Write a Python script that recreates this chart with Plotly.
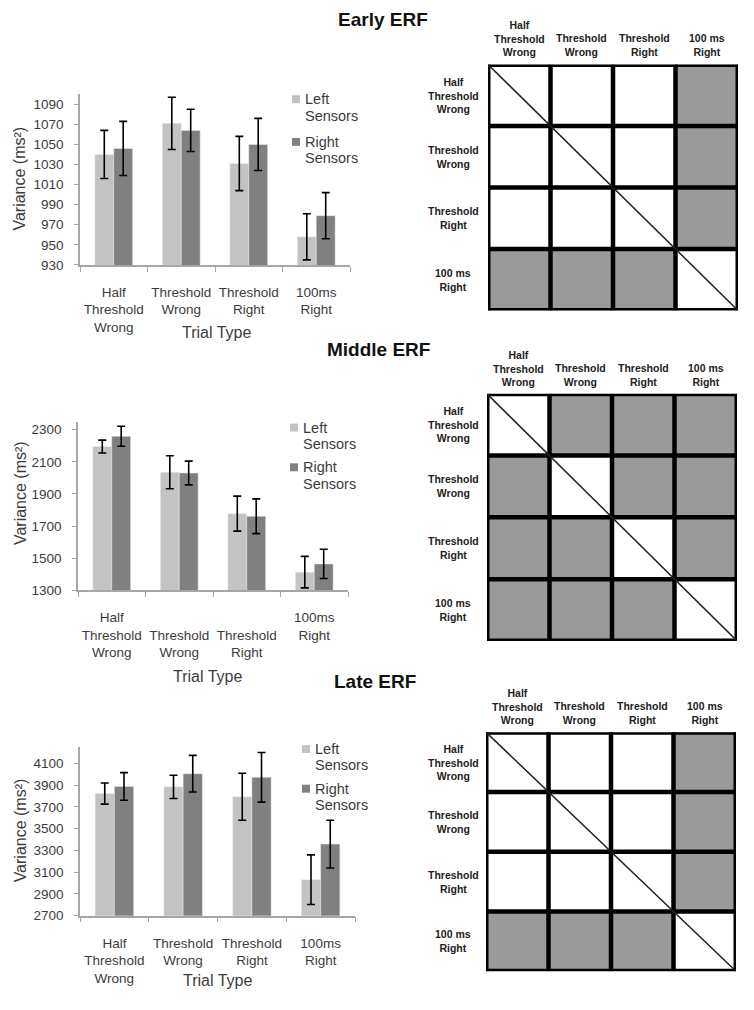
import plotly.graph_objects as go

# ---------------- data ----------------
categories = ["Half Threshold Wrong", "Threshold Wrong", "Threshold Right", "100ms Right"]
tick_text = ["Half<br>Threshold<br>Wrong", "Threshold<br>Wrong", "Threshold<br>Right", "100ms<br>Right"]
tick_text_mid = ["Half<br>Threshold<br>Wrong", "\u00a0<br>Threshold<br>Wrong", "\u00a0<br>Threshold<br>Right", "100ms<br>Right"]
series_names = ["Left Sensors", "Right Sensors"]

early_left = [1040, 1071, 1031, 958]
early_left_err = [24, 26, 27, 23]
early_right = [1046, 1064, 1050, 979]
early_right_err = [27, 21, 26, 23]

middle_left = [2195, 2035, 1777, 1413]
middle_left_err = [40, 103, 109, 98]
middle_right = [2259, 2030, 1761, 1464]
middle_right_err = [62, 74, 108, 91]

late_left = [3822, 3884, 3793, 3031]
late_left_err = [97, 107, 216, 228]
late_right = [3888, 4005, 3972, 3358]
late_right_err = [127, 168, 228, 219]

matrix_labels = ["Half<br>Threshold<br>Wrong", "Threshold<br>Wrong", "Threshold<br>Right", "100 ms<br>Right"]
# 1 = significant difference (grey), 0 = not significant (white)
early_sig = [[0, 0, 0, 1],
             [0, 0, 0, 1],
             [0, 0, 0, 1],
             [1, 1, 1, 0]]
middle_sig = [[0, 1, 1, 1],
              [1, 0, 1, 1],
              [1, 1, 0, 1],
              [1, 1, 1, 0]]
late_sig = [[0, 0, 0, 1],
            [0, 0, 0, 1],
            [0, 0, 0, 1],
            [1, 1, 1, 0]]

titles = ["Early ERF", "Middle ERF", "Late ERF"]

# ---------------- styling ----------------
W, H = 754, 1010
LIGHT = "#c3c3c3"
DARK = "#808080"
SIG = "#9a9a9a"
TXT = "#3c3c3c"
AXC = "#a6a6a6"
FONT = "Liberation Sans, Arial, sans-serif"


def px(x):
    return x / W


def py(y):
    return 1 - y / H


fig = go.Figure()

panels = [
    dict(left=early_left, lerr=early_left_err, right=early_right, rerr=early_right_err,
         xd=(80, 350), yd=(95, 267), rng=[930, 1100], t0=930, dt=20, ticks=tick_text,
         leg=(292, 100, 143), trial=(216, 335), vtitle=180, title=(383, 20),
         mx=(488, 738), my=(65, 313), sig=early_sig),
    dict(left=middle_left, lerr=middle_left_err, right=middle_right, rerr=middle_right_err,
         xd=(78, 348), yd=(425, 595), rng=[1300, 2350], t0=1300, dt=200, ticks=tick_text_mid,
         leg=(290, 431, 471), trial=(207, 682), vtitle=497, title=(378, 352),
         mx=(487, 737), my=(397, 646), sig=middle_sig),
    dict(left=late_left, lerr=late_left_err, right=late_right, rerr=late_right_err,
         xd=(80, 355), yd=(753, 923), rng=[2700, 4250], t0=2700, dt=200, ticks=tick_text,
         leg=(302, 755, 795), trial=(217, 988), vtitle=837, title=(375, 687),
         mx=(486, 736), my=(738, 979), sig=late_sig),
]

annotations = []
shapes = []
layout_axes = {}

for i, p in enumerate(panels):
    bx = "x" if i == 0 else f"x{i + 1}"
    by = "y" if i == 0 else f"y{i + 1}"
    for name, vals, errs, col in ((series_names[0], p["left"], p["lerr"], LIGHT),
                                  (series_names[1], p["right"], p["rerr"], DARK)):
        fig.add_trace(go.Bar(
            x=categories, y=vals, name=name, marker_color=col,
            xaxis=bx, yaxis=by, showlegend=False,
            error_y=dict(type="data", array=errs, color="black", thickness=1.6, width=4)))

    xk = "xaxis" if i == 0 else f"xaxis{i + 1}"
    yk = "yaxis" if i == 0 else f"yaxis{i + 1}"
    layout_axes[xk] = dict(
        domain=[px(p["xd"][0]), px(p["xd"][1])], anchor=by,
        type="category", categoryorder="array", categoryarray=categories,
        tickvals=categories, ticktext=p["ticks"],
        showline=True, linecolor=AXC, linewidth=1.5,
        ticks="outside", tickson="boundaries", ticklen=5, tickcolor=AXC,
        showgrid=False, tickfont=dict(family=FONT, size=13.5, color=TXT),
        ticklabelstandoff=14, tickangle=0)
    layout_axes[yk] = dict(
        domain=[py(p["yd"][1]), py(p["yd"][0])], anchor=bx,
        range=p["rng"], tick0=p["t0"], dtick=p["dt"],
        showline=True, linecolor=AXC, linewidth=1.5,
        ticks="outside", ticklen=4, tickcolor=AXC,
        showgrid=False, zeroline=False,
        tickfont=dict(family=FONT, size=13.5, color=TXT), ticklabelstandoff=8)

    # legend (drawn manually to match the two-line layout)
    sqx, ly1, ly2 = p["leg"]
    for name, col, ly in ((series_names[0], LIGHT, ly1), (series_names[1], DARK, ly2)):
        shapes.append(dict(type="rect", xref="paper", yref="paper",
                           x0=px(sqx), x1=px(sqx + 8), y0=py(ly + 4), y1=py(ly - 4),
                           fillcolor=col, line=dict(width=0)))
        w1, w2 = name.split(" ")
        for k, wtxt in enumerate((w1, w2)):
            annotations.append(dict(
                text=wtxt, x=px(sqx + 11), y=py(ly + 16.5 * k), xref="paper", yref="paper",
                showarrow=False, xanchor="left", yanchor="middle",
                font=dict(family=FONT, size=14.5, color=TXT)))

    # axis titles
    annotations.append(dict(
        text="Trial Type", x=px(p["trial"][0]), y=py(p["trial"][1]), xref="paper", yref="paper",
        showarrow=False, font=dict(family=FONT, size=16, color=TXT), xanchor="center", yanchor="middle"))
    annotations.append(dict(
        text="Variance (ms²)", x=px(20), y=py(p["vtitle"]), xref="paper", yref="paper",
        showarrow=False, textangle=-90, font=dict(family=FONT, size=16, color=TXT),
        xanchor="center", yanchor="middle"))
    annotations.append(dict(
        text=f"<b>{titles[i]}</b>", x=px(p["title"][0]), y=py(p["title"][1]), xref="paper", yref="paper",
        showarrow=False, font=dict(family=FONT, size=19, color="#111111"),
        xanchor="center", yanchor="middle"))

    # significance matrix
    mxk = f"x{i + 4}"
    myk = f"y{i + 4}"
    fig.add_trace(go.Heatmap(
        z=p["sig"], x=[0, 1, 2, 3], y=[0, 1, 2, 3], xaxis=mxk, yaxis=myk,
        colorscale=[[0, "white"], [1, SIG]], zmin=0, zmax=1, showscale=False,
        hoverinfo="skip"))
    layout_axes[f"xaxis{i + 4}"] = dict(
        domain=[px(p["mx"][0]), px(p["mx"][1])], anchor=myk, range=[-0.5, 3.5],
        showticklabels=False, showgrid=False, zeroline=False, ticks="")
    layout_axes[f"yaxis{i + 4}"] = dict(
        domain=[py(p["my"][1]), py(p["my"][0])], anchor=mxk, range=[3.5, -0.5],
        showticklabels=False, showgrid=False, zeroline=False, ticks="")

    for k in range(5):
        v = -0.5 + k
        lw = 5 if k in (0, 4) else 4.5
        shapes.append(dict(type="line", xref=mxk, yref=myk, x0=v, x1=v, y0=-0.5, y1=3.5,
                           line=dict(color="black", width=lw)))
        shapes.append(dict(type="line", xref=mxk, yref=myk, x0=-0.5, x1=3.5, y0=v, y1=v,
                           line=dict(color="black", width=lw)))
    shapes.append(dict(type="line", xref=mxk, yref=myk, x0=-0.5, x1=3.5, y0=-0.5, y1=3.5,
                       line=dict(color="#222222", width=1.5)))

    for j, lab in enumerate(matrix_labels):
        annotations.append(dict(
            text=f"<b>{lab}</b>", x=j, y=-0.5, xref=mxk, yref=myk, yanchor="bottom",
            xanchor="center", yshift=4, showarrow=False,
            font=dict(family=FONT, size=10.5, color="#222222")))
        annotations.append(dict(
            text=f"<b>{lab}</b>", x=px(453), y=j, xref="paper", yref=myk, yanchor="middle",
            xanchor="center", showarrow=False,
            font=dict(family=FONT, size=10.5, color="#222222")))

fig.update_layout(
    width=W, height=H, margin=dict(l=0, r=0, t=0, b=0),
    paper_bgcolor="white", plot_bgcolor="white",
    barmode="group", bargap=0.44, bargroupgap=0,
    annotations=annotations, shapes=shapes, showlegend=False,
    font=dict(family=FONT),
    **layout_axes)

fig.write_html(
    "out.html",
    config={"displayModeBar": False},
    post_script="document.body.style.margin='0';document.documentElement.style.overflow='hidden';")
